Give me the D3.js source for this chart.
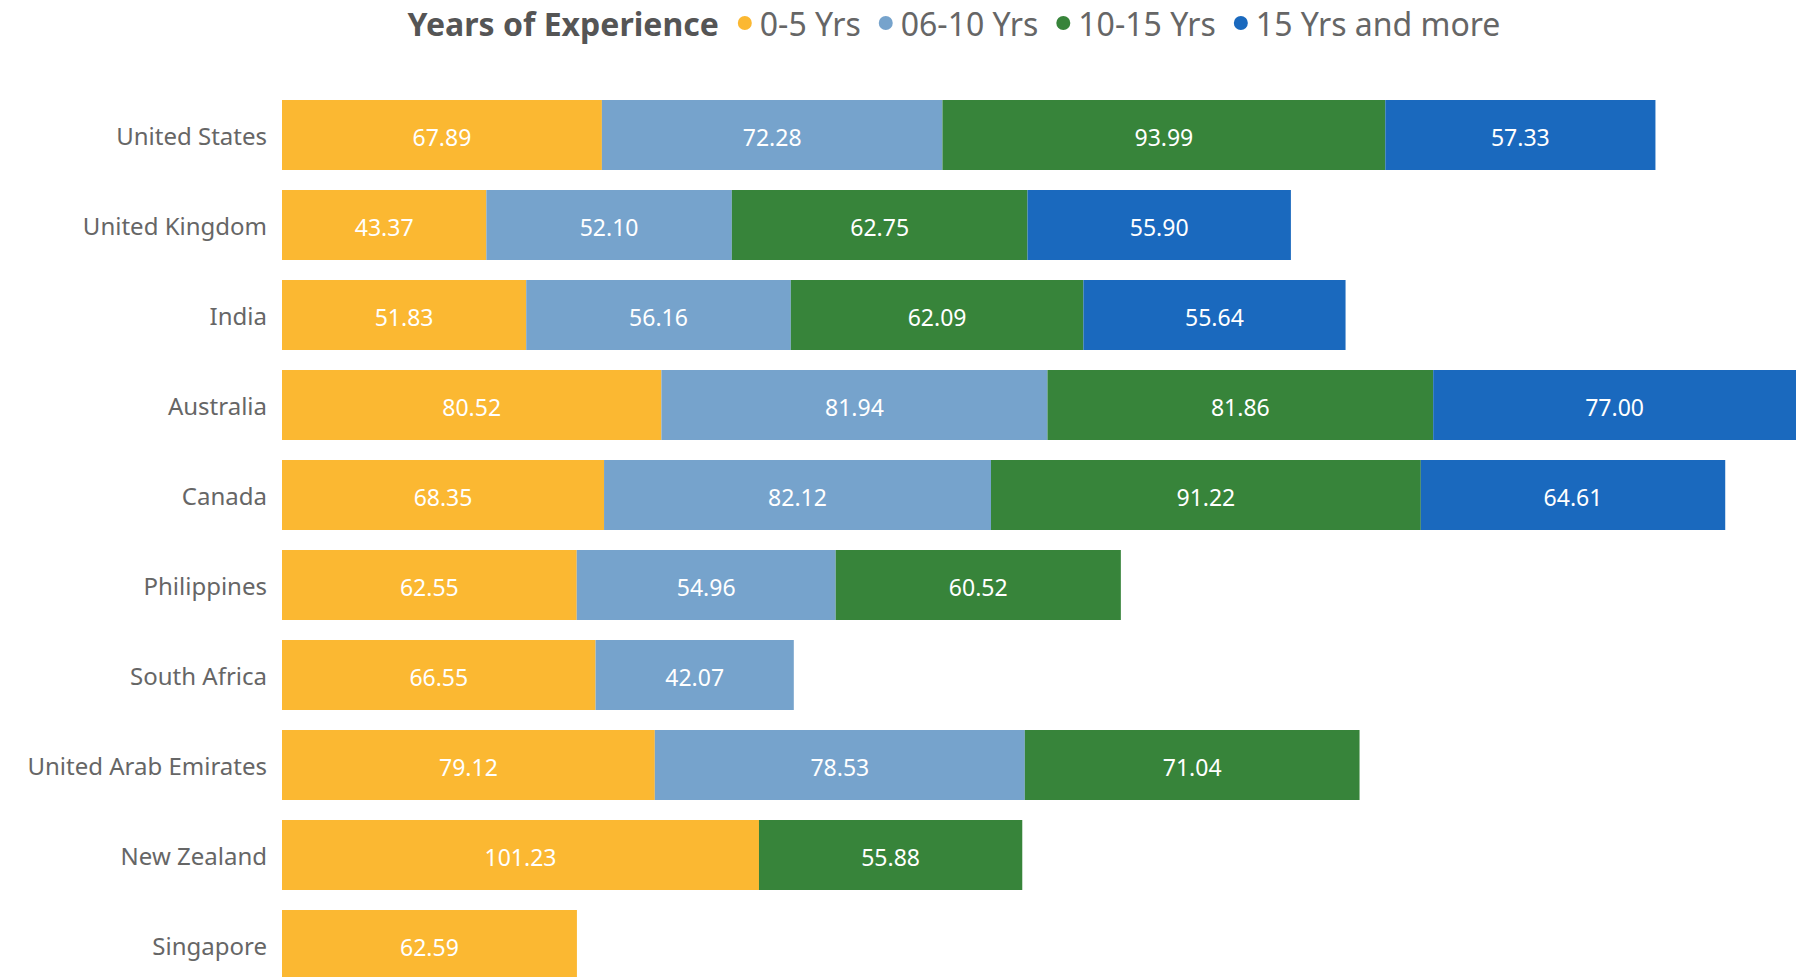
<!DOCTYPE html>
<html>
<head>
<meta charset="utf-8">
<script src="https://cdn.jsdelivr.net/npm/d3@7"></script>
<style>
  body { margin: 0; background: #fff; }
  svg { display: block; font-family: "Segoe UI", "Noto Sans", "Open Sans", sans-serif; }
</style>
</head>
<body>
<div id="grafika"></div>
<script>
// data
const countries = ["United States", "United Kingdom", "India", "Australia", "Canada",
	"Philippines", "South Africa", "United Arab Emirates", "New Zealand", "Singapore"];
const series_names = ["0-5 Yrs", "06-10 Yrs", "10-15 Yrs", "15 Yrs and more"];
const yrs_0_5   = [67.89, 43.37, 51.83, 80.52, 68.35, 62.55, 66.55, 79.12, 101.23, 62.59];
const yrs_6_10  = [72.28, 52.10, 56.16, 81.94, 82.12, 54.96, 42.07, 78.53, null, null];
const yrs_10_15 = [93.99, 62.75, 62.09, 81.86, 91.22, 60.52, null, 71.04, 55.88, null];
const yrs_15    = [57.33, 55.90, 55.64, 77.00, 64.61, null, null, null, null, null];
const colors = ["#FBB832", "#76A3CC", "#37843A", "#1A69BE"];

const width = 1811, height = 977;
const margins = { top: 90, right: 15, bottom: -13, left: 282 };

const table = countries.map((c, i) => ({
	country: c,
	"0-5 Yrs": yrs_0_5[i] || 0,
	"06-10 Yrs": yrs_6_10[i] || 0,
	"10-15 Yrs": yrs_10_15[i] || 0,
	"15 Yrs and more": yrs_15[i] || 0
}));

const stacked = d3.stack().keys(series_names)(table);

const x_scale = d3.scaleLinear()
	.domain([0, d3.max(stacked[stacked.length - 1], d => d[1])])
	.range([margins.left, width - margins.right]);
const y_scale = d3.scaleBand()
	.domain(countries)
	.range([margins.top, height - margins.bottom])
	.paddingInner(2 / 9)
	.paddingOuter(1 / 9);
const color = d3.scaleOrdinal().domain(series_names).range(colors);

const svg = d3.select("#grafika")
	.append("svg")
	.attr("width", width)
	.attr("height", height);

// category axis, no line or ticks
const y_axis = svg.append("g")
	.attr("class", "y axis")
	.attr("transform", `translate(${margins.left - 15}, 2)`)
	.call(d3.axisLeft(y_scale).tickSize(0).tickPadding(0));
y_axis.select(".domain").remove();
y_axis.selectAll("text")
	.attr("fill", "#666")
	.style("font-size", "24px")
	.style("font-family", "'Segoe UI', 'Noto Sans', sans-serif");

const layers = svg.append("g")
	.attr("class", "bars")
	.selectAll("g")
	.data(stacked)
	.enter()
	.append("g")
	.attr("fill", d => color(d.key));

layers.selectAll("rect")
	.data(d => d.filter(s => s[1] - s[0] > 0))
	.enter()
	.append("rect")
	.attr("x", d => x_scale(d[0]))
	.attr("y", d => y_scale(d.data.country))
	.attr("width", d => x_scale(d[1]) - x_scale(d[0]))
	.attr("height", y_scale.bandwidth());

layers.selectAll("text")
	.data(d => d.filter(s => s[1] - s[0] > 0))
	.enter()
	.append("text")
	.attr("x", d => (x_scale(d[0]) + x_scale(d[1])) / 2)
	.attr("y", d => y_scale(d.data.country) + y_scale.bandwidth() / 2 + 3)
	.attr("dy", "0.35em")
	.attr("text-anchor", "middle")
	.attr("fill", "#fff")
	.style("font-size", "23px")
	.text(d => (d[1] - d[0]).toFixed(2));

// legend: title + dots, laid out by measured text widths, then centred
const legend = svg.append("g").attr("class", "legend");
const title = legend.append("text")
	.attr("x", 0)
	.attr("y", 36)
	.attr("fill", "#555")
	.style("font-size", "32px")
	.style("font-weight", "bold")
	.text("Years of Experience");
let cursor = title.node().getComputedTextLength() + 26;
series_names.forEach(name => {
	legend.append("circle")
		.attr("cx", cursor)
		.attr("cy", 23)
		.attr("r", 7)
		.attr("fill", color(name));
	const t = legend.append("text")
		.attr("x", cursor + 15)
		.attr("y", 36)
		.attr("fill", "#666")
		.style("font-size", "32px")
		.text(name);
	cursor += 15 + t.node().getComputedTextLength() + 25;
});
const legend_width = cursor - 25;
legend.attr("transform", `translate(${954 - legend_width / 2}, 0)`);
</script>
</body>
</html>
